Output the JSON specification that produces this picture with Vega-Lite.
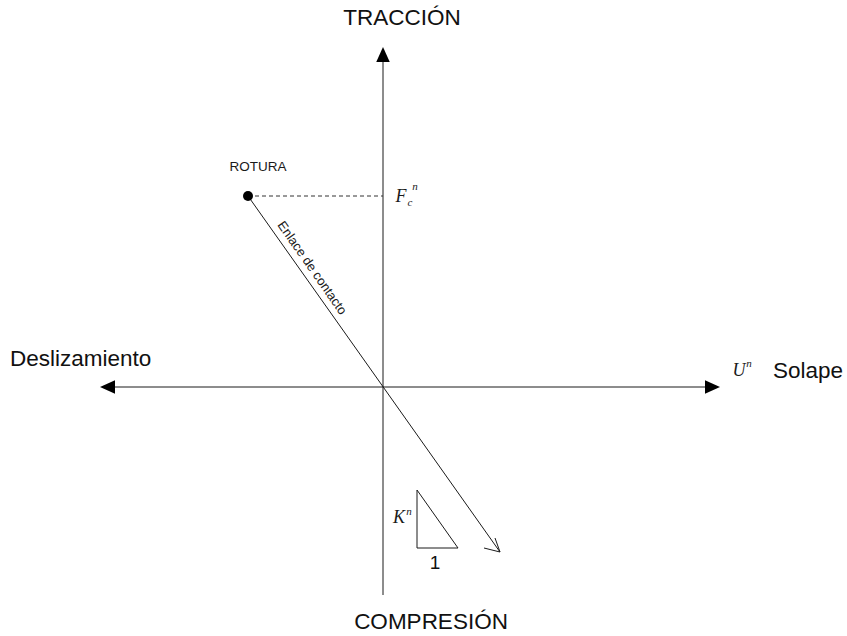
{
  "$schema": "https://vega.github.io/schema/vega-lite/v6.json",
  "width": 847,
  "height": 636,
  "autosize": {"type": "fit", "contains": "padding"},
  "padding": 0,
  "background": "white",
  "config": {"view": {"stroke": null}},
  "datasets": {
    "segments": [
      {"part": "eje vertical", "style": "solid", "x": 0, "y": -208, "x2": 0, "y2": 330},
      {"part": "eje horizontal", "style": "solid", "x": -275, "y": 0, "x2": 330, "y2": 0},
      {"part": "enlace", "style": "solid", "x": -135, "y": 191, "x2": 117, "y2": -165},
      {"part": "punta a", "style": "solid", "x": 117, "y": -165, "x2": 101, "y2": -161},
      {"part": "punta b", "style": "solid", "x": 117, "y": -165, "x2": 112, "y2": -151},
      {"part": "triangulo vertical", "style": "solid", "x": 34, "y": -103, "x2": 34, "y2": -161},
      {"part": "triangulo base", "style": "solid", "x": 34, "y": -161, "x2": 75, "y2": -161},
      {"part": "triangulo hipotenusa", "style": "solid", "x": 75, "y": -161, "x2": 34, "y2": -103},
      {"part": "nivel rotura", "style": "dashed", "x": -135, "y": 191, "x2": 0, "y2": 191}
    ],
    "heads": [
      {"dir": "up", "x": 0, "y": 340},
      {"dir": "right", "x": 337, "y": 0},
      {"dir": "left", "x": -283, "y": 0}
    ],
    "points": [
      {"name": "ROTURA", "x": -135, "y": 191}
    ],
    "titles": [
      {"label": "TRACCIÓN", "x": 19, "y": 369},
      {"label": "COMPRESIÓN", "x": 48, "y": -235}
    ],
    "sideTitles": [
      {"label": "Deslizamiento", "x": -373, "y": 28},
      {"label": "Solape", "x": 390, "y": 16}
    ],
    "symbols": [
      {"label": "F", "x": 18, "y": 190},
      {"label": "U", "x": 356, "y": 16},
      {"label": "K", "x": 16, "y": -131}
    ],
    "indices": [
      {"label": "c", "x": 27, "y": 184},
      {"label": "n", "x": 32, "y": 200},
      {"label": "n", "x": 366, "y": 23},
      {"label": "n", "x": 26, "y": -125}
    ]
  },
  "layer": [
    {
      "data": {"name": "segments"},
      "transform": [{"filter": "datum.style == 'solid'"}],
      "mark": {"type": "rule", "color": "#1a1a1a", "strokeWidth": 1},
      "encoding": {
        "x": {"field": "x", "type": "quantitative", "scale": {"domain": [-383, 464], "nice": false, "zero": false}, "axis": null},
        "y": {"field": "y", "type": "quantitative", "scale": {"domain": [-249, 387], "nice": false, "zero": false}, "axis": null},
        "x2": {"field": "x2"},
        "y2": {"field": "y2"}
      }
    },
    {
      "data": {"name": "segments"},
      "transform": [{"filter": "datum.style == 'dashed'"}],
      "mark": {"type": "rule", "color": "#333333", "strokeWidth": 1, "strokeDash": [4, 3]},
      "encoding": {
        "x": {"field": "x", "type": "quantitative"},
        "y": {"field": "y", "type": "quantitative"},
        "x2": {"field": "x2"},
        "y2": {"field": "y2"}
      }
    },
    {
      "data": {"name": "heads"},
      "transform": [{"filter": "datum.dir == 'up'"}],
      "mark": {"type": "point", "shape": "M0,0L-0.9,2L0.9,2Z", "filled": true, "color": "#000000", "opacity": 1, "size": 225, "angle": 0},
      "encoding": {
        "x": {"field": "x", "type": "quantitative"},
        "y": {"field": "y", "type": "quantitative"}
      }
    },
    {
      "data": {"name": "heads"},
      "transform": [{"filter": "datum.dir == 'right'"}],
      "mark": {"type": "point", "shape": "M0,0L-0.9,2L0.9,2Z", "filled": true, "color": "#000000", "opacity": 1, "size": 225, "angle": 90},
      "encoding": {
        "x": {"field": "x", "type": "quantitative"},
        "y": {"field": "y", "type": "quantitative"}
      }
    },
    {
      "data": {"name": "heads"},
      "transform": [{"filter": "datum.dir == 'left'"}],
      "mark": {"type": "point", "shape": "M0,0L-0.9,2L0.9,2Z", "filled": true, "color": "#000000", "opacity": 1, "size": 225, "angle": 270},
      "encoding": {
        "x": {"field": "x", "type": "quantitative"},
        "y": {"field": "y", "type": "quantitative"}
      }
    },
    {
      "data": {"name": "points"},
      "mark": {"type": "point", "shape": "circle", "filled": true, "color": "#000000", "opacity": 1, "size": 100},
      "encoding": {
        "x": {"field": "x", "type": "quantitative"},
        "y": {"field": "y", "type": "quantitative"}
      }
    },
    {
      "data": {"name": "points"},
      "mark": {"type": "text", "font": "Liberation Sans", "fontSize": 13.5, "color": "#1a1a1a", "align": "center", "baseline": "middle", "dx": 10, "dy": -29},
      "encoding": {
        "x": {"field": "x", "type": "quantitative"},
        "y": {"field": "y", "type": "quantitative"},
        "text": {"field": "name"}
      }
    },
    {
      "data": {"values": [{"label": "Enlace de contacto", "x": -71, "y": 119}]},
      "mark": {"type": "text", "font": "Liberation Sans", "fontSize": 13, "color": "#1a1a1a", "align": "center", "baseline": "middle", "angle": 55},
      "encoding": {
        "x": {"field": "x", "type": "quantitative"},
        "y": {"field": "y", "type": "quantitative"},
        "text": {"field": "label"}
      }
    },
    {
      "data": {"name": "titles"},
      "mark": {"type": "text", "font": "Liberation Sans", "fontSize": 22.5, "color": "#111111", "align": "center", "baseline": "middle"},
      "encoding": {
        "x": {"field": "x", "type": "quantitative"},
        "y": {"field": "y", "type": "quantitative"},
        "text": {"field": "label"}
      }
    },
    {
      "data": {"values": [{"label": "1", "x": 52, "y": -176}]},
      "mark": {"type": "text", "font": "Liberation Sans", "fontSize": 19, "color": "#111111", "align": "center", "baseline": "middle"},
      "encoding": {
        "x": {"field": "x", "type": "quantitative"},
        "y": {"field": "y", "type": "quantitative"},
        "text": {"field": "label"}
      }
    },
    {
      "data": {"name": "sideTitles"},
      "mark": {"type": "text", "font": "Liberation Sans", "fontSize": 22.5, "color": "#111111", "align": "left", "baseline": "middle"},
      "encoding": {
        "x": {"field": "x", "type": "quantitative"},
        "y": {"field": "y", "type": "quantitative"},
        "text": {"field": "label"}
      }
    },
    {
      "data": {"name": "symbols"},
      "mark": {"type": "text", "font": "Liberation Serif", "fontStyle": "italic", "fontSize": 18, "color": "#1a1a1a", "align": "center", "baseline": "middle"},
      "encoding": {
        "x": {"field": "x", "type": "quantitative"},
        "y": {"field": "y", "type": "quantitative"},
        "text": {"field": "label"}
      }
    },
    {
      "data": {"name": "indices"},
      "mark": {"type": "text", "font": "Liberation Serif", "fontStyle": "italic", "fontSize": 11, "color": "#1a1a1a", "align": "center", "baseline": "middle"},
      "encoding": {
        "x": {"field": "x", "type": "quantitative"},
        "y": {"field": "y", "type": "quantitative"},
        "text": {"field": "label"}
      }
    }
  ]
}
